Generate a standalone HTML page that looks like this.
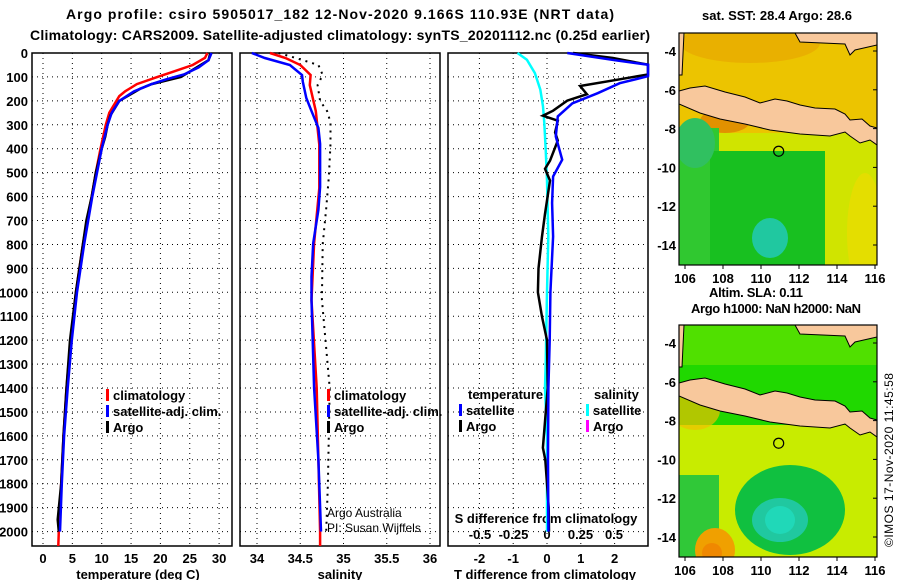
<!DOCTYPE html>
<html><head><meta charset="utf-8">
<style>
body{margin:0;background:#fff;width:900px;height:580px;overflow:hidden}
svg text{font-family:"Liberation Sans",sans-serif;font-weight:bold;fill:#000}
</style></head>
<body>
<svg id="fig" width="900" height="580" xmlns="http://www.w3.org/2000/svg">
<text x="66" y="19" font-size="14" textLength="548" lengthAdjust="spacing">Argo profile: csiro 5905017_182 12-Nov-2020 9.166S 110.93E (NRT data)</text>
<text x="30" y="40" font-size="14" textLength="620" lengthAdjust="spacing">Climatology: CARS2009. Satellite-adjusted climatology: synTS_20201112.nc (0.25d earlier)</text>
<g id="maps"></g>
<g id="panels"></g>
</svg>
<script>
// ---- data ----
const depthTicks=[0,100,200,300,400,500,600,700,800,900,1000,1100,1200,1300,1400,1500,1600,1700,1800,1900,2000];
const tempTicks=[0,5,10,15,20,25,30];
const salTicks=[34,34.5,35,35.5,36];
const tdTicks=[-2,-1,0,1,2];
const sdTicks=[-0.5,-0.25,0,0.25,0.5];
const latTicks=[-4,-6,-8,-10,-12,-14];
const lonTicks=[106,108,110,112,114,116];

const climTD=[0,20,50,80,100,130,160,180,200,250,300,400,500,600,700,800,1000,1200,1400,1600,1800,2000,2060];
const climT=[28.0,27.6,25.5,22,19.5,16,14,13,12.5,11.3,10.7,9.8,9,8.3,7.5,6.8,5.6,4.7,4.0,3.5,3.1,2.7,2.6];
const satTD=[0,30,60,90,110,130,160,200,250,300,400,500,600,700,800,1000,1200,1400,1600,1800,2000];
const satT=[28.7,28.2,26.5,24,21,18.5,15.5,13,11.7,11,10,9.2,8.4,7.7,7,5.8,4.9,4.2,3.6,3.2,2.9];
const argoTD=[0,30,70,100,130,150,200,260,300,350,400,500,600,700,800,1000,1200,1400,1600,1800,1950,2000];
const argoT=[28.5,28.2,25.5,23.5,18.5,16.5,13,11.5,11,10.6,10,9,8.3,7.4,6.8,5.6,4.6,4.0,3.5,3.1,2.5,2.7];

const climSD=[0,21,50,92,134,243,383,565,795,1033,1400,1700,2000,2060];
const climS=[34.15,34.33,34.5,34.62,34.61,34.68,34.72,34.72,34.66,34.63,34.69,34.71,34.73,34.73];
const satSD=[0,21,50,92,120,188,243,313,380,560,655,795,935,1033,1400,1700,2000];
const satS=[33.94,34.09,34.38,34.52,34.53,34.57,34.63,34.71,34.73,34.73,34.71,34.65,34.63,34.63,34.66,34.71,34.74];
const argoSD=[0,20,50,92,134,200,243,290,380,520,650,800,1030,1400,1800,2000];
const argoS=[34.25,34.44,34.71,34.76,34.70,34.73,34.81,34.85,34.85,34.83,34.80,34.76,34.75,34.84,34.82,34.80];

const satTdD=[0,30,49,97,126,168,210,265,349,446,516,627,767,1000,1200,1400,1700,2000];
const satTd=[0.6,2.0,3.0,3.0,2.15,1.5,0.75,0.32,0.26,0.45,0.18,0.15,0.18,0.1,0.08,0.04,0.03,0.04];
const argoTdD=[0,21,49,90,110,138,172,199,241,262,283,332,366,450,484,533,672,770,900,1000,1100,1200,1400,1650,1700,1900,2000];
const argoTd=[0.77,1.95,3.0,3.0,2.15,0.98,1.18,0.6,0.18,-0.12,0.32,0.24,0.32,0.09,-0.06,0.09,-0.06,-0.15,-0.25,-0.27,-0.15,0,0.02,-0.12,-0.05,0.05,0.06];
const satSdD=[0,28,84,153,223,292,404,530,767,1000,1300,1400,1600,2000];
const satSd=[-0.22,-0.15,-0.09,-0.05,-0.03,-0.02,-0.01,0.0,0.01,0.0,-0.01,-0.015,0.0,0.0];

// ---- helpers ----
const NS="http://www.w3.org/2000/svg";
function mk(tag,attrs,parent,txt){const e=document.createElementNS(NS,tag);for(const k in attrs)e.setAttribute(k,attrs[k]);if(txt!==undefined)e.textContent=txt;parent.appendChild(e);return e;}
const P=document.getElementById('panels');
const yD=d=>53+d*0.2393;
const xT=t=>43+t*5.87;
const xS=s=>257+(s-34)*86.5;
const xTd=t=>547+t*33.8;
const xSd=s=>547+s*134;
const BOT=546;

function panel(name){
  const g=mk('g',{},P);
  
  
  return g;
}
function grid(g,x0,x1,xs){
  depthTicks.forEach(d=>{if(d>0)mk('line',{x1:x0,x2:x1,y1:yD(d),y2:yD(d),stroke:'#000','stroke-dasharray':'1,4'},g);});
  xs.forEach(x=>mk('line',{x1:x,x2:x,y1:53,y2:BOT,stroke:'#000','stroke-dasharray':'1,4'},g));
  const r=mk('rect',{x:x0,y:53,width:x1-x0,height:BOT-53,fill:'none',stroke:'#000','stroke-width':1.5},g);
  
  
}
function line(g,ds,vs,fx,color,w,name,dash,clipx){
  const pts=ds.map((d,i)=>{let x=fx(vs[i]);if(clipx)x=Math.min(x,clipx);return x.toFixed(1)+','+yD(d).toFixed(1);}).join(' ');
  const a={points:pts,fill:'none',stroke:color,'stroke-width':w};
  if(dash)a['stroke-dasharray']=dash;
  const l=mk('polyline',a,g);
  
  
}
function legend(g,x,y,items){
  items.forEach((it,i)=>{
    const yy=y+i*16;
    mk('rect',{x:x,y:yy-11,width:3,height:12,fill:it[1]},g);
    const t=mk('text',{x:x+7,y:yy,'font-size':13},g,it[0]);
    
    
  });
}

// panel 1 temperature
const g1=panel('temperature-panel');
grid(g1,32,232,tempTicks.map(xT));
depthTicks.forEach(d=>{const t=mk('text',{x:28,y:yD(d)+5,'font-size':13,'text-anchor':'end'},g1,d);
 });
tempTicks.forEach(v=>{const t=mk('text',{x:xT(v),y:563,'font-size':13,'text-anchor':'middle'},g1,v);
 });
const a1=mk('text',{x:138,y:579,'font-size':13,'text-anchor':'middle'},g1,'temperature (deg C)');

line(g1,climTD,climT,xT,'#f00',2.5,'climatology-temperature-line');
line(g1,argoTD,argoT,xT,'#000',2.5,'argo-temperature-line');
line(g1,satTD,satT,xT,'#00f',2.5,'satellite-temperature-line');
legend(g1,106,400,[['climatology','#f00'],['satellite-adj. clim.','#00f'],['Argo','#000']]);

// panel 2 salinity
const g2=panel('salinity-panel');
grid(g2,240,440,salTicks.map(xS));
salTicks.forEach(v=>{const t=mk('text',{x:xS(v),y:563,'font-size':13,'text-anchor':'middle'},g2,v);
 });
const a2=mk('text',{x:340,y:579,'font-size':13,'text-anchor':'middle'},g2,'salinity');

line(g2,argoSD,argoS,xS,'#000',2,'argo-salinity-line','2,5');
line(g2,climSD,climS,xS,'#f00',2.5,'climatology-salinity-line');
line(g2,satSD,satS,xS,'#00f',2.5,'satellite-salinity-line');
legend(g2,327,400,[['climatology','#f00'],['satellite-adj. clim.','#00f'],['Argo','#000']]);
const c1=mk('text',{x:327,y:517,'font-size':12,style:'font-weight:normal'},g2,'Argo Australia');

const c2=mk('text',{x:327,y:532,'font-size':12,style:'font-weight:normal'},g2,'PI: Susan Wijffels');


// panel 3 differences
const g3=panel('difference-panel');
grid(g3,448,648,tdTicks.map(xTd));
tdTicks.forEach(v=>{const t=mk('text',{x:xTd(v),y:563,'font-size':13,'text-anchor':'middle'},g3,v);
 });
sdTicks.forEach(v=>{const t=mk('text',{x:xSd(v),y:539,'font-size':13,'text-anchor':'middle'},g3,v);
 });
const a3=mk('text',{x:545,y:579,'font-size':13,'text-anchor':'middle'},g3,'T difference from climatology');

const a4=mk('text',{x:546,y:523,'font-size':13,'text-anchor':'middle'},g3,'S difference from climatology');

line(g3,satSdD,satSd,xSd,'#0ff',2.5,'satellite-salinity-diff-line');
line(g3,argoTdD,argoTd,xTd,'#000',2.5,'argo-temp-diff-line',null,648);
line(g3,satTdD,satTd,xTd,'#00f',2.5,'satellite-temp-diff-line',null,648);
const lt=mk('text',{x:468,y:399,'font-size':13},g3,'temperature');

const ls=mk('text',{x:594,y:399,'font-size':13},g3,'salinity');

legend(g3,459,415,[['satellite','#00f'],['Argo','#000']]);
legend(g3,586,415,[['satellite','#0ff'],['Argo','#f0f']]);

// ---- maps ----
const M=document.getElementById('maps');
const LX=l=>685+(l-106)*19;
const LY=(l,top)=>top+18+(-4-l)*19.4;
function map(top,name,regions){
  const g=mk('g',{},M);
  
  
  const cid='clip'+top;
  const cp=mk('clipPath',{id:cid},g);mk('rect',{x:679,y:top,width:198,height:232},cp);
  const inner=mk('g',{'clip-path':'url(#'+cid+')'},g);
  regions.forEach(r=>{
    if(r[0]==='rect')mk('rect',{x:r[1],y:top+r[2],width:r[3],height:r[4],fill:r[5]},inner);
    else mk('ellipse',{cx:r[1],cy:top+r[2],rx:r[3],ry:r[4],fill:r[5],opacity:r[6]||1},inner);
  });
  const land=[[679,91],[690,88],[705,86],[725,92],[745,97],[760,103],[775,99],[787,101],[800,105],[815,108],[835,109],[845,114],[850,120],[862,119],[870,126],[877,128],[877,145],[870,140],[860,143],[850,136],[845,132],[830,136],[800,134],[770,130],[745,124],[720,119],[700,113],[679,104]];
  const lp=mk('polygon',{points:land.map(p=>p[0]+','+(p[1]-33+top)).join(' '),fill:'#f8c89c',stroke:'#000','stroke-width':1},inner);
  
  mk('polygon',{points:[[795,33],[877,33],[877,45],[855,50],[850,55],[845,44],[800,42]].map(p=>p[0]+','+(p[1]-33+top)).join(' '),fill:'#f8c89c',stroke:'#000','stroke-width':1},inner);
  mk('polygon',{points:[[679,33],[684,33],[682,75],[679,75]].map(p=>p[0]+','+(p[1]-33+top)).join(' '),fill:'#f8c89c',stroke:'#000','stroke-width':1},inner);
  const mk1=mk('circle',{cx:LX(110.93),cy:LY(-9.166,top),r:5,fill:'none',stroke:'#000','stroke-width':1.2},g);
  
  mk('rect',{x:679,y:top,width:198,height:232,fill:'none',stroke:'#000','stroke-width':1.2},g);
  latTicks.forEach(l=>{const y=LY(l,top);
    mk('line',{x1:873,x2:877,y1:y,y2:y,stroke:'#000'},g);
    const t=mk('text',{x:676,y:y+5,'font-size':13,'text-anchor':'end'},g,l);
    });
  lonTicks.forEach(l=>{const x=LX(l);
    mk('line',{x1:x,x2:x,y1:top+232,y2:top+236,stroke:'#000'},g);
    const t=mk('text',{x:x,y:top+250,'font-size':13,'text-anchor':'middle'},g,l);
    });
}
map(33,'sst-map',[
 ['rect',679,0,198,232,'#d0e400'],
 ['rect',679,0,198,100,'#ecc400'],
 ['ellipse',750,10,70,20,'#e8a800',0.7],
 ['ellipse',725,88,25,12,'#e08c00',0.9],
 ['rect',679,95,40,137,'#30c830'],
 ['rect',710,118,115,114,'#18c020'],
 ['ellipse',695,110,20,25,'#30c060'],
 ['ellipse',770,205,18,20,'#20c8a0'],
 ['ellipse',865,200,18,60,'#e8dc00',0.8]
]);
map(325,'sla-map',[
 ['rect',679,0,198,232,'#c8ec00'],
 ['rect',679,0,198,100,'#20d800'],
 ['rect',679,0,198,40,'#50e000'],
 ['ellipse',695,85,25,20,'#f0c000',0.7],
 ['rect',679,150,40,82,'#30c838'],
 ['ellipse',715,225,20,22,'#f0a000'],
 ['ellipse',712,228,10,10,'#f08800'],
 ['ellipse',790,185,55,45,'#10c040'],
 ['ellipse',780,195,28,22,'#20c8a0'],
 ['ellipse',780,195,15,14,'#20d8b8']
]);
const mt=[['sat. SST: 28.4 Argo: 28.6',702,20,150,'sst-map-title'],['Altim. SLA: 0.11',709,297,94,'sla-value-label'],['Argo h1000: NaN h2000: NaN',691,313,170,'sla-map-title']];
mt.forEach(m=>{const t=mk('text',{x:m[1],y:m[2],'font-size':13,textLength:m[3],lengthAdjust:'spacing'},M,m[0]);
 });
const cr=mk('text',{x:0,y:0,'font-size':12,'text-anchor':'middle',textLength:174,lengthAdjust:'spacing',style:'font-weight:normal',transform:'translate(893,460) rotate(-90)'},M,'©IMOS 17-Nov-2020 11:45:58');

</script>
</body></html>
